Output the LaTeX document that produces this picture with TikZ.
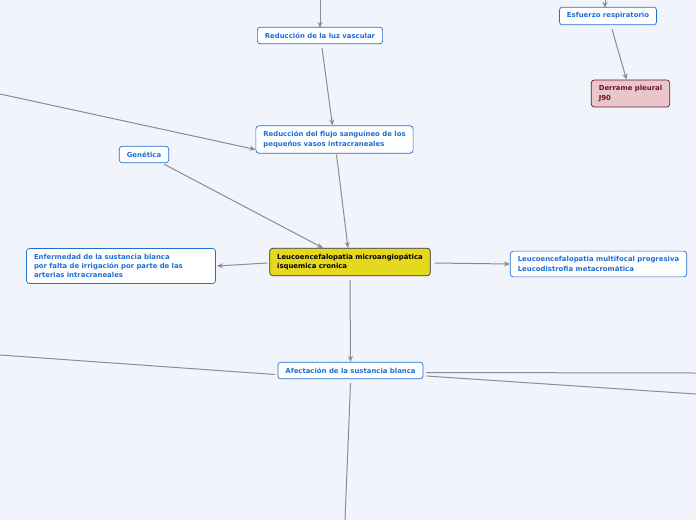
\documentclass[tikz,border=0pt]{standalone}
\usepackage{fontspec}
\setmainfont{DejaVu Sans}
\usepackage{xcolor}
\usetikzlibrary{arrows.meta, positioning, calc}

\definecolor{bgpaper}{HTML}{F2F4FC}
\definecolor{topicblue}{HTML}{1E6FD4}
\definecolor{edgegray}{HTML}{8A8B94}
\definecolor{rootyellow}{HTML}{E5D81E}
\definecolor{alertfill}{HTML}{E8C6CB}
\definecolor{alertdraw}{HTML}{6E1424}

\begin{document}
\begin{tikzpicture}[
    x=1pt, y=-1pt,
    topic/.style={
      rectangle, draw=topicblue, fill=white, rounded corners=3pt,
      line width=0.7pt, inner xsep=7.5pt, inner ysep=5.5pt,
      font=\fontsize{6.9}{9.4}\selectfont\bfseries, text=topicblue,
      align=left
    },
    root/.style={topic, fill=rootyellow, draw=black!80, text=black},
    alert/.style={topic, fill=alertfill, draw=alertdraw, text=alertdraw},
    link/.style={-{Stealth[length=6pt, width=5pt]}, draw=edgegray, line width=1pt},
    tail/.style={draw=edgegray, line width=1pt},
  ]

  \fill[bgpaper] (0,0) rectangle (696,520);
  \useasboundingbox (0,0) rectangle (696,520);

  %% ── Main column ───────────────────────────────────────────────────────
  \node[topic] (luz)      at (320,35.5)  {Reducción de la luz vascular};
  \node[topic] (flujo)    at (334.5,139.5) {Reducción del flujo sanguíneo de los\\pequeños vasos intracraneales};
  \node[root]  (central)  at (350,262)   {Leucoencefalopatia microangiopática\\isquemica cronica};
  \node[topic] (afect)    at (350.5,370.5) {Afectación de la sustancia blanca};

  %% ── Side topics ───────────────────────────────────────────────────────
  \node[topic] (genetica) at (144,154.5)  {Genética};
  \node[topic, text width=174pt] (enferm) at (121,266)
      {Enfermedad de la sustancia blanca\\por falta de irrigación por parte de las\\arterias intracraneales};
  \node[topic] (multi)    at (598.5,264)  {Leucoencefalopatia multifocal progresiva\\Leucodistrofia metacromática};

  %% ── Top right ─────────────────────────────────────────────────────────
  \node[topic] (esfuerzo) at (608,16)    {Esfuerzo respiratorio};
  \node[alert] (derrame)  at (630.5,93.5) {Derrame pleural\\J90};

  %% ── Free ends off the page ────────────────────────────────────────────
  \coordinate (inLuz)   at (320,0);
  \coordinate (inEsf)   at (605,0);
  \coordinate (inFlujo) at (0,94);
  \coordinate (outW)    at (0,355);
  \coordinate (outE1)   at (696,373);
  \coordinate (outE2)   at (696,394);
  \coordinate (outS)    at (345,520);

  %% ── Connectors ────────────────────────────────────────────────────────
  \draw[link] (inLuz) -- ([yshift=-1pt]luz.north);
  \draw[link] (inEsf) -- ([xshift=-3pt,yshift=-1pt]esfuerzo.north);
  \draw[link] ([xshift=4pt,yshift=-4pt]esfuerzo.south) -- ([xshift=-4pt]derrame.north);
  \draw[link] ([xshift=2pt,yshift=-4pt]luz.south) -- ([xshift=-2pt]flujo.north);
  \draw[link] (inFlujo) -- ([yshift=-10pt]flujo.west);
  \draw[link] ([xshift=2pt,yshift=-1pt]flujo.south) -- ([xshift=-2pt]central.north);
  \draw[link] ([xshift=-5pt,yshift=-1pt]genetica.south east) -- ([xshift=-27pt]central.north);
  \draw[link] ([xshift=-2pt,yshift=-1pt]central.west) -- ([xshift=1pt]enferm.east);
  \draw[link] ([xshift=4pt,yshift=-1pt]central.east) -- (multi.west);
  \draw[link] ([yshift=-4pt]central.south) -- (afect.north);
  \draw[tail] ([xshift=-3pt,yshift=-4pt]afect.west) -- (outW);
  \draw[tail] ([xshift=3pt,yshift=-2pt]afect.east) -- (outE1);
  \draw[tail] ([xshift=3pt,yshift=-5.5pt]afect.east) -- (outE2);
  \draw[tail] ([yshift=-4pt]afect.south) -- (outS);

\end{tikzpicture}
\end{document}
